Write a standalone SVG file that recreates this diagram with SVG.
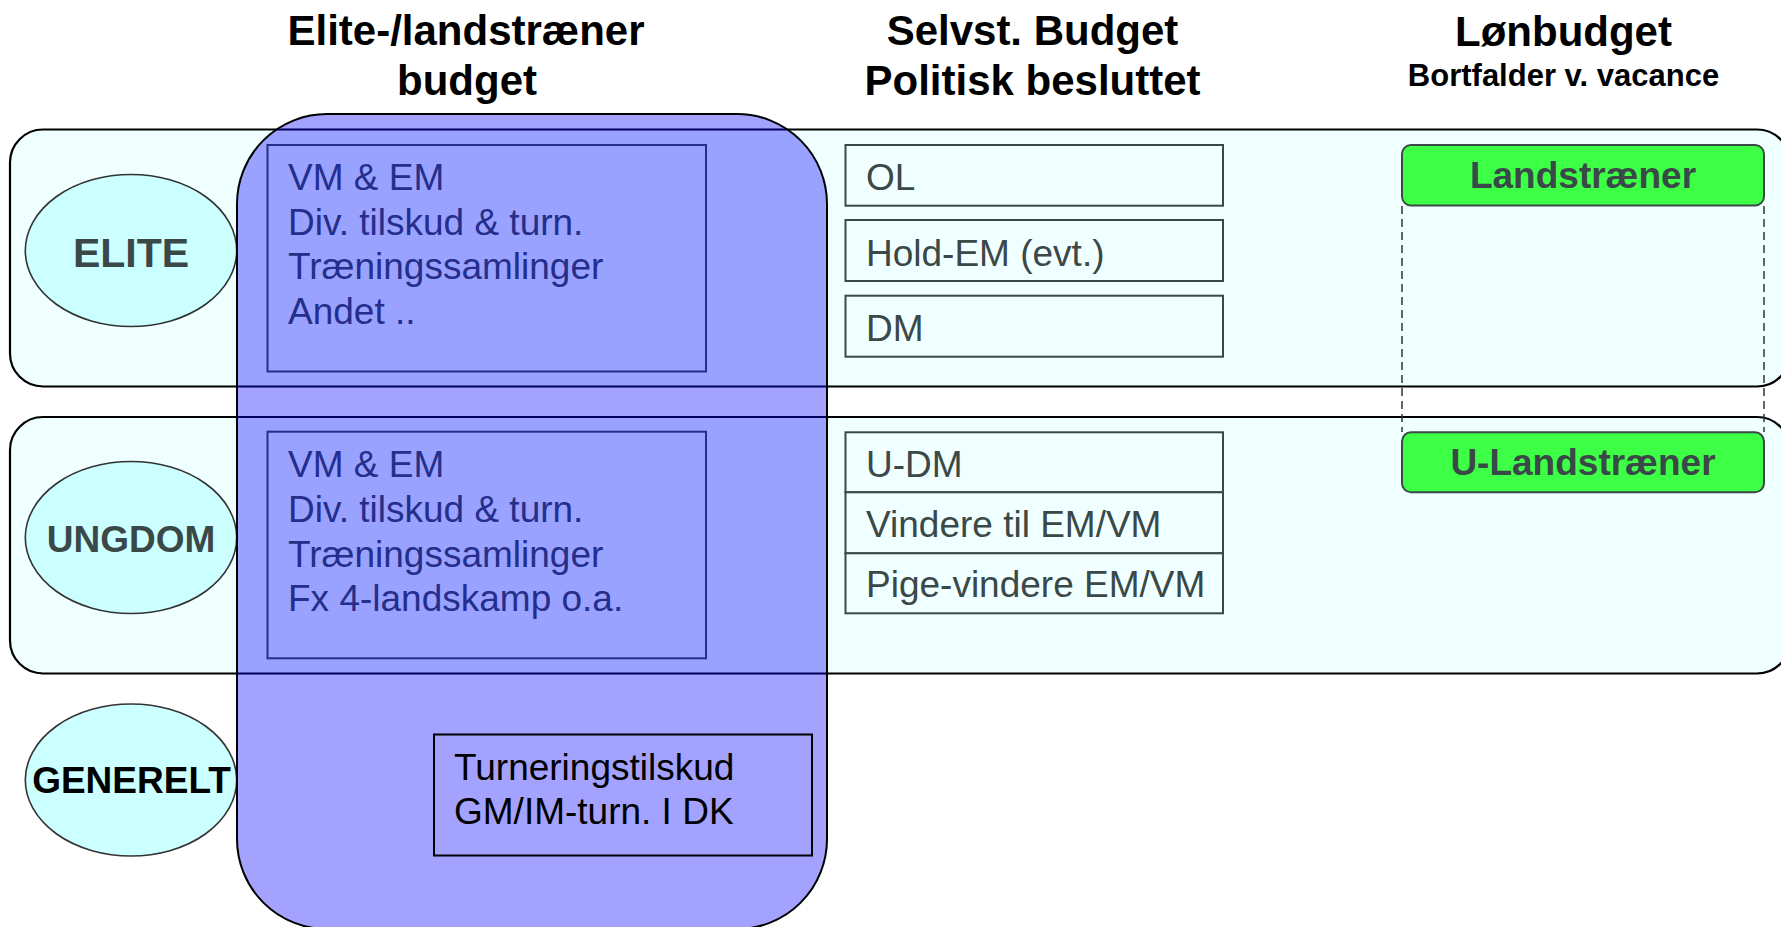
<svg xmlns="http://www.w3.org/2000/svg" width="1781" height="927" viewBox="0 0 1781 927">
<style>
  text { font-family: "Liberation Sans", Arial, sans-serif; }
  .hdr { font-size: 42px; font-weight: bold; fill: #000; text-anchor: middle; }
  .sub { font-size: 31px; font-weight: bold; fill: #000; text-anchor: middle; }
  .band { fill: #f0ffff; stroke: #000; stroke-width: 2.2; }
  .oval { fill: #ccffff; stroke: #333; stroke-width: 1.6; }
  .ovtxt { font-weight: bold; text-anchor: middle; fill: #3a4848; }
  .ibox { fill: none; stroke: #3a4848; stroke-width: 2; }
  .itxt { font-size: 37px; fill: #3a4848; }
  .rbox { fill: #f0ffff; stroke: #3a4848; stroke-width: 2; }
  .rtxt { font-size: 37px; fill: #3a4848; }
  .gbox { fill: #3cff46; stroke: #3a4848; stroke-width: 2; }
  .gtxt { font-size: 37px; font-weight: bold; fill: #3a4848; text-anchor: middle; }
  .dash { stroke: #333; stroke-width: 1.5; stroke-dasharray: 8 5; fill: none; }
</style>

<g id="band-elite"><rect class="band" x="10" y="129.5" width="1780" height="257" rx="33" ry="33"/></g>
<g id="band-ungdom"><rect class="band" x="10" y="417" width="1780" height="256.5" rx="33" ry="33"/></g>

<g id="node-elite">
  <ellipse class="oval" cx="131" cy="250.5" rx="105.7" ry="76"/>
  <text class="ovtxt" x="131" y="266.5" font-size="41">ELITE</text>
</g>
<g id="node-ungdom">
  <ellipse class="oval" cx="131" cy="537.5" rx="105.7" ry="76"/>
  <text class="ovtxt" x="131" y="551.5" font-size="37">UNGDOM</text>
</g>
<g id="node-generelt">
  <ellipse class="oval" cx="131" cy="780" rx="105.7" ry="76"/>
  <text class="ovtxt" x="131.5" y="793" font-size="37" style="fill:#000">GENERELT</text>
</g>

<g id="node-elite-budget">
  <rect class="ibox" x="267.5" y="145" width="438.5" height="226.5"/>
  <text class="itxt" x="288" y="190">VM &amp; EM</text>
  <text class="itxt" x="288" y="234.7">Div. tilskud &amp; turn.</text>
  <text class="itxt" x="288" y="279.3">Træningssamlinger</text>
  <text class="itxt" x="288" y="324">Andet ..</text>
</g>
<g id="node-ungdom-budget">
  <rect class="ibox" x="267.5" y="431.7" width="438.5" height="226.6"/>
  <text class="itxt" x="288" y="477">VM &amp; EM</text>
  <text class="itxt" x="288" y="522">Div. tilskud &amp; turn.</text>
  <text class="itxt" x="288" y="566.5">Træningssamlinger</text>
  <text class="itxt" x="288" y="610.5">Fx 4-landskamp o.a.</text>
</g>

<g id="node-elite-landstraener-budget">
  <rect x="237" y="114" width="590" height="815" rx="90" ry="90" fill="#0000ff" fill-opacity="0.36" stroke="#000" stroke-width="2"/>
</g>

<g id="node-turneringstilskud">
  <rect x="434" y="734.5" width="378" height="121" fill="none" stroke="#000" stroke-width="2"/>
  <text x="454" y="780" font-size="37" fill="#000">Turneringstilskud</text>
  <text x="454" y="824.3" font-size="37" fill="#000">GM/IM-turn. I DK</text>
</g>

<g id="node-ol"><rect class="rbox" x="845.5" y="145" width="377.5" height="60.7"/><text class="rtxt" x="866" y="190">OL</text></g>
<g id="node-holdem"><rect class="rbox" x="845.5" y="220" width="377.5" height="61"/><text class="rtxt" x="866" y="265.7">Hold-EM (evt.)</text></g>
<g id="node-dm"><rect class="rbox" x="845.5" y="295.7" width="377.5" height="61"/><text class="rtxt" x="866" y="340.7">DM</text></g>
<g id="node-udm"><rect class="rbox" x="845.5" y="432.3" width="377.5" height="60"/><text class="rtxt" x="866" y="477.3">U-DM</text></g>
<g id="node-vindere"><rect class="rbox" x="845.5" y="492.3" width="377.5" height="61"/><text class="rtxt" x="866" y="537.3">Vindere til EM/VM</text></g>
<g id="node-pige"><rect class="rbox" x="845.5" y="553.3" width="377.5" height="60"/><text class="rtxt" x="866" y="597.3">Pige-vindere EM/VM</text></g>

<g id="node-landstraener"><rect class="gbox" x="1402" y="145" width="362" height="60.5" rx="9" ry="9"/><text class="gtxt" x="1583" y="188.3">Landstræner</text></g>
<g id="node-ulandstraener"><rect class="gbox" x="1402" y="432.3" width="362" height="60" rx="9" ry="9"/><text class="gtxt" x="1583" y="475">U-Landstræner</text></g>

<g id="connectors">
  <line class="dash" x1="1402" y1="206" x2="1402" y2="432"/>
  <line class="dash" x1="1764" y1="206" x2="1764" y2="432"/>
</g>

<g id="headers">
  <text class="hdr" x="466" y="45">Elite-/landstræner</text>
  <text class="hdr" x="467" y="95">budget</text>
  <text class="hdr" x="1032.5" y="45">Selvst. Budget</text>
  <text class="hdr" x="1032.5" y="95">Politisk besluttet</text>
  <text class="hdr" x="1563.5" y="46">Lønbudget</text>
  <text class="sub" x="1563.5" y="86">Bortfalder v. vacance</text>
</g>
</svg>
